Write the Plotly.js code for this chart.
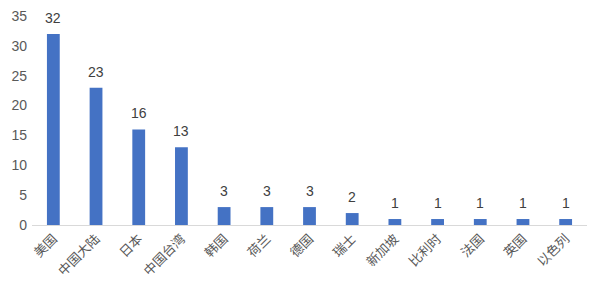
<!DOCTYPE html>
<html><head><meta charset="utf-8">
<script src="https://cdn.plot.ly/plotly-3.0.1.min.js"></script>
<style>html,body{margin:0;padding:0;background:#fff}#c{width:600px;height:288px}</style>
</head><body><div id="c"></div>
<script>
const categories = ["美国","中国大陆","日本","中国台湾","韩国","荷兰","德国","瑞士","新加坡","比利时","法国","英国","以色列"];
const values = [32,23,16,13,3,3,3,2,1,1,1,1,1];
const yTicks = [0,5,10,15,20,25,30,35];

const labels = categories.map((c, i) => ({
  x: c, y: values[i], xref: 'x', yref: 'y',
  text: String(values[i]), showarrow: false,
  yanchor: 'bottom', yshift: 6,
  font: {family: 'Liberation Sans, Arial, sans-serif', size: 14, color: '#404040'}
}));

Plotly.newPlot('c', [{
  type: 'bar',
  x: categories,
  y: values,
  marker: {color: '#4472C4'},
  hoverinfo: 'none'
}], {
  width: 600, height: 288,
  margin: {l: 32, r: 13, t: 16, b: 63},
  paper_bgcolor: '#fff', plot_bgcolor: '#fff',
  bargap: 0.70,
  showlegend: false,
  annotations: labels,
  font: {family: 'Liberation Sans, Arial, sans-serif', color: '#595959'},
  xaxis: {
    type: 'category',
    tickangle: -45,
    tickfont: {family: 'Noto Sans CJK SC, sans-serif', size: 13, color: '#595959'},
    showline: true, linecolor: '#d9d9d9', linewidth: 1,
    ticks: '', showgrid: false, zeroline: false
  },
  yaxis: {
    range: [0, 35],
    tickvals: yTicks,
    tickfont: {family: 'Liberation Sans, Arial, sans-serif', size: 14, color: '#595959'},
    showgrid: false, zeroline: false, showline: false, ticks: '',
    ticklabelstandoff: 4
  }
}, {displayModeBar: false, staticPlot: true});
</script></body></html>
